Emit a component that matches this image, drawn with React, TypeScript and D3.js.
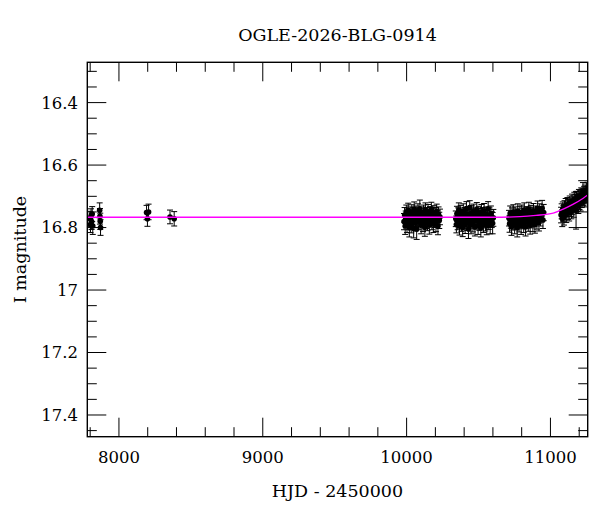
import React from 'react';
import * as d3 from 'd3';

// [HJD - 2450000, I mag, error]
type Obs = [number, number, number];

const title = 'OGLE-2026-BLG-0914';
const xLabel = 'HJD - 2450000';
const yLabel = 'I magnitude';

const xMajorTicks = [8000, 9000, 10000, 11000];
const yMajorTicks = [16.4, 16.6, 16.8, 17, 17.2, 17.4];
const yTickLabels = ['16.4', '16.6', '16.8', '17', '17.2', '17.4'];

const earlyObs: Obs[] = [
  [7798, 16.772, 0.024], [7802, 16.790, 0.026], [7806, 16.763, 0.023],
  [7810, 16.781, 0.025], [7814, 16.757, 0.024], [7818, 16.795, 0.027],
  [7866, 16.745, 0.024], [7868, 16.764, 0.025], [7870, 16.780, 0.026],
  [7872, 16.800, 0.025], [8192, 16.752, 0.023], [8198, 16.772, 0.024],
  [8206, 16.750, 0.025], [8355, 16.766, 0.022], [8384, 16.772, 0.023],
];

const season1: Obs[] = [
  [9982, 16.781, 0.026], [9986, 16.760, 0.024], [9990, 16.795, 0.027], [9994, 16.772, 0.025],
  [9998, 16.752, 0.024], [10003, 16.788, 0.028], [10007, 16.766, 0.025], [10011, 16.745, 0.023],
  [10015, 16.779, 0.026], [10019, 16.801, 0.029], [10024, 16.758, 0.024], [10028, 16.770, 0.025],
  [10032, 16.790, 0.027], [10036, 16.750, 0.023], [10041, 16.775, 0.026], [10045, 16.762, 0.025],
  [10049, 16.803, 0.030], [10053, 16.741, 0.023], [10058, 16.768, 0.025], [10062, 16.784, 0.027],
  [10066, 16.755, 0.024], [10070, 16.805, 0.033], [10075, 16.772, 0.025], [10079, 16.748, 0.024],
  [10083, 16.781, 0.026], [10088, 16.762, 0.025], [10092, 16.740, 0.028], [10096, 16.775, 0.026],
  [10101, 16.792, 0.028], [10105, 16.758, 0.024], [10110, 16.770, 0.025], [10114, 16.786, 0.027],
  [10118, 16.752, 0.024], [10123, 16.765, 0.025], [10127, 16.799, 0.029], [10131, 16.744, 0.023],
  [10136, 16.777, 0.026], [10140, 16.760, 0.024], [10145, 16.783, 0.027], [10149, 16.750, 0.024],
  [10154, 16.772, 0.025], [10158, 16.793, 0.028], [10163, 16.757, 0.024], [10167, 16.768, 0.025],
  [10172, 16.742, 0.023], [10176, 16.781, 0.026], [10181, 16.763, 0.025], [10186, 16.789, 0.027],
  [10190, 16.754, 0.024], [10195, 16.774, 0.026], [10199, 16.761, 0.025], [10204, 16.786, 0.027],
  [10209, 16.749, 0.024], [10213, 16.771, 0.025], [10218, 16.795, 0.028], [10222, 16.758, 0.024],
  [10227, 16.777, 0.026], [10232, 16.766, 0.025],
];

const season2: Obs[] = [
  [10342, 16.772, 0.025], [10346, 16.790, 0.027], [10350, 16.756, 0.024], [10355, 16.781, 0.026],
  [10359, 16.762, 0.025], [10363, 16.744, 0.023], [10368, 16.796, 0.028], [10372, 16.769, 0.025],
  [10376, 16.753, 0.024], [10381, 16.785, 0.027], [10385, 16.766, 0.025], [10390, 16.800, 0.029],
  [10394, 16.747, 0.023], [10398, 16.778, 0.026], [10403, 16.760, 0.024], [10407, 16.791, 0.028],
  [10412, 16.771, 0.025], [10416, 16.739, 0.022], [10421, 16.783, 0.026], [10425, 16.757, 0.024],
  [10430, 16.805, 0.030], [10434, 16.767, 0.025], [10439, 16.736, 0.022], [10443, 16.776, 0.026],
  [10448, 16.792, 0.028], [10452, 16.754, 0.024], [10457, 16.770, 0.025], [10461, 16.787, 0.027],
  [10466, 16.748, 0.023], [10470, 16.765, 0.025], [10475, 16.798, 0.029], [10479, 16.759, 0.024],
  [10484, 16.779, 0.026], [10488, 16.743, 0.023], [10493, 16.773, 0.025], [10497, 16.794, 0.028],
  [10502, 16.756, 0.024], [10506, 16.783, 0.026], [10511, 16.764, 0.025], [10516, 16.801, 0.029],
  [10520, 16.750, 0.024], [10525, 16.775, 0.026], [10529, 16.761, 0.025], [10534, 16.789, 0.027],
  [10539, 16.746, 0.023], [10543, 16.770, 0.025], [10548, 16.784, 0.027], [10553, 16.758, 0.024],
  [10557, 16.795, 0.028], [10562, 16.767, 0.025], [10567, 16.740, 0.023], [10571, 16.780, 0.026],
  [10576, 16.762, 0.025], [10581, 16.792, 0.028], [10586, 16.755, 0.024], [10592, 16.774, 0.026],
  [10598, 16.786, 0.034], [10603, 16.769, 0.027],
];

const season3: Obs[] = [
  [10712, 16.770, 0.025], [10716, 16.788, 0.027], [10720, 16.755, 0.024], [10725, 16.776, 0.026],
  [10729, 16.797, 0.028], [10733, 16.761, 0.024], [10738, 16.782, 0.026], [10742, 16.750, 0.023],
  [10746, 16.772, 0.025], [10751, 16.792, 0.028], [10755, 16.758, 0.024], [10760, 16.779, 0.026],
  [10764, 16.766, 0.025], [10769, 16.801, 0.029], [10773, 16.747, 0.023], [10778, 16.774, 0.025],
  [10782, 16.787, 0.027], [10787, 16.756, 0.024], [10791, 16.770, 0.025], [10796, 16.794, 0.028],
  [10800, 16.752, 0.024], [10805, 16.778, 0.026], [10809, 16.763, 0.025], [10814, 16.789, 0.027],
  [10818, 16.744, 0.023], [10823, 16.771, 0.025], [10827, 16.798, 0.029], [10832, 16.757, 0.024],
  [10836, 16.776, 0.026], [10841, 16.762, 0.025], [10846, 16.785, 0.027], [10850, 16.741, 0.022],
  [10855, 16.768, 0.025], [10859, 16.793, 0.028], [10864, 16.753, 0.024], [10869, 16.775, 0.026],
  [10873, 16.760, 0.025], [10878, 16.786, 0.027], [10882, 16.746, 0.023], [10887, 16.771, 0.025],
  [10892, 16.790, 0.028], [10896, 16.755, 0.024], [10901, 16.766, 0.025], [10906, 16.779, 0.026],
  [10911, 16.738, 0.023], [10915, 16.762, 0.025], [10920, 16.784, 0.027], [10925, 16.748, 0.024],
  [10930, 16.770, 0.025], [10936, 16.757, 0.024], [10942, 16.738, 0.025], [10948, 16.776, 0.027],
  [10953, 16.752, 0.026],
];

const season4: Obs[] = [
  [11074, 16.760, 0.025], [11078, 16.748, 0.024], [11082, 16.771, 0.026], [11086, 16.741, 0.023],
  [11090, 16.755, 0.025], [11094, 16.766, 0.026], [11098, 16.737, 0.023], [11102, 16.751, 0.025],
  [11106, 16.730, 0.023], [11110, 16.758, 0.026], [11114, 16.742, 0.024], [11118, 16.727, 0.023],
  [11122, 16.749, 0.025], [11126, 16.734, 0.024], [11130, 16.753, 0.026], [11134, 16.722, 0.023],
  [11138, 16.740, 0.025], [11142, 16.729, 0.024], [11146, 16.746, 0.026], [11150, 16.716, 0.023],
  [11154, 16.734, 0.025], [11158, 16.723, 0.024], [11162, 16.741, 0.026], [11166, 16.710, 0.023],
  [11170, 16.728, 0.025], [11174, 16.718, 0.024], [11178, 16.745, 0.060], [11182, 16.707, 0.023],
  [11186, 16.724, 0.025], [11190, 16.713, 0.024], [11194, 16.729, 0.026], [11198, 16.701, 0.023],
  [11202, 16.717, 0.025], [11206, 16.706, 0.024], [11210, 16.721, 0.026], [11214, 16.696, 0.023],
  [11218, 16.711, 0.025], [11222, 16.700, 0.024], [11226, 16.684, 0.028], [11230, 16.705, 0.025],
  [11234, 16.692, 0.024], [11238, 16.708, 0.026], [11242, 16.687, 0.023], [11246, 16.699, 0.025],
  [11250, 16.681, 0.024], [11254, 16.695, 0.025], [11258, 16.679, 0.024],
];

// model curve: [HJD - 2450000, I mag]
const modelCurve: [number, number][] = [
  [7700, 16.767], [10600, 16.767], [10788, 16.765], [10900, 16.761], [11019, 16.754],
  [11089, 16.741], [11159, 16.725], [11228, 16.706], [11270, 16.692],
];

const W = 600;
const H = 512;
const left = 87.3;
const right = 587.7;
const top = 62.3;
const bottom = 436.7;
const FONT = '"DejaVu Serif", serif';

export default function App() {
  const x = d3.scaleLinear().domain([7780, 11259]).range([left, right]);
  const y = d3.scaleLinear().domain([16.271, 17.4695]).range([top, bottom]);

  const allObs = [...earlyObs, ...season1, ...season2, ...season3, ...season4];

  const xMinor = d3.range(7800, 11260, 200).filter(v => v % 1000 !== 0);
  const yMinor = d3.range(16.3, 17.47, 0.05).filter(
    v => !yMajorTicks.some(t => Math.abs(t - v) < 1e-6)
  );

  const line = d3.line<[number, number]>()
    .x(d => x(d[0]))
    .y(d => y(d[1]))
    .curve(d3.curveMonotoneX);

  const majorLen = 19;
  const minorLen = 9.5;
  const cap = 3;

  return (
    <svg width={W} height={H} style={{ position: 'absolute', left: 0, top: 0, background: '#fff' }}>
      <defs>
        <clipPath id="plotArea">
          <rect x={left} y={top} width={right - left} height={bottom - top} />
        </clipPath>
      </defs>

      <text x={(left + right) / 2} y={41} textAnchor="middle" fontFamily={FONT} fontSize={17.5}>{title}</text>

      {/* ticks on all four sides, pointing inwards */}
      <g stroke="#000" strokeWidth={1}>
        {xMajorTicks.map(t => (
          <g key={'xM' + t}>
            <line x1={x(t)} x2={x(t)} y1={bottom} y2={bottom - majorLen} />
            <line x1={x(t)} x2={x(t)} y1={top} y2={top + majorLen} />
          </g>
        ))}
        {xMinor.map(t => (
          <g key={'xm' + t}>
            <line x1={x(t)} x2={x(t)} y1={bottom} y2={bottom - minorLen} />
            <line x1={x(t)} x2={x(t)} y1={top} y2={top + minorLen} />
          </g>
        ))}
        {yMajorTicks.map(t => (
          <g key={'yM' + t}>
            <line x1={left} x2={left + majorLen} y1={y(t)} y2={y(t)} />
            <line x1={right} x2={right - majorLen} y1={y(t)} y2={y(t)} />
          </g>
        ))}
        {yMinor.map(t => (
          <g key={'ym' + t}>
            <line x1={left} x2={left + minorLen} y1={y(t)} y2={y(t)} />
            <line x1={right} x2={right - minorLen} y1={y(t)} y2={y(t)} />
          </g>
        ))}
      </g>

      <g clipPath="url(#plotArea)">
        <g stroke="#000" strokeWidth={1}>
          {allObs.map((d, i) => {
            const cx = x(d[0]);
            const y1 = y(d[1] - d[2]);
            const y2 = y(d[1] + d[2]);
            return (
              <g key={'e' + i}>
                <line x1={cx} x2={cx} y1={y1} y2={y2} />
                <line x1={cx - cap} x2={cx + cap} y1={y1} y2={y1} />
                <line x1={cx - cap} x2={cx + cap} y1={y2} y2={y2} />
              </g>
            );
          })}
        </g>
        <g fill="#000">
          {allObs.map((d, i) => (
            <circle key={'p' + i} cx={x(d[0])} cy={y(d[1])} r={2.8} />
          ))}
        </g>
        <path d={line(modelCurve) ?? ''} fill="none" stroke="#ff00ff" strokeWidth={1.3} />
      </g>

      <rect x={left} y={top} width={right - left} height={bottom - top} fill="none" stroke="#000" strokeWidth={1.4} />

      <g fontFamily={FONT} fontSize={16.5} fill="#000">
        {xMajorTicks.map(t => (
          <text key={'xl' + t} x={x(t)} y={463} textAnchor="middle">{t}</text>
        ))}
        {yMajorTicks.map((t, i) => (
          <text key={'yl' + t} x={78} y={y(t)} dy="0.36em" textAnchor="end">{yTickLabels[i]}</text>
        ))}
      </g>

      <text x={(left + right) / 2} y={497} textAnchor="middle" fontFamily={FONT} fontSize={17.5}>{xLabel}</text>
      <text transform={`translate(25.5, ${(top + bottom) / 2}) rotate(-90)`} textAnchor="middle" fontFamily={FONT} fontSize={17.5}>{yLabel}</text>
    </svg>
  );
}
